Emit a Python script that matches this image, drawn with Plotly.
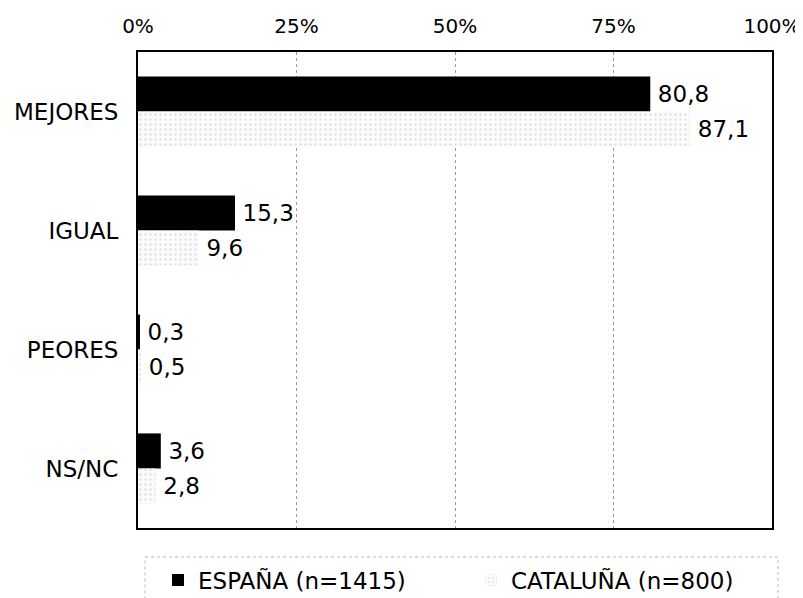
import plotly.graph_objects as go

categories = ["MEJORES", "IGUAL", "PEORES", "NS/NC"]
espana = [80.8, 15.3, 0.3, 3.6]
cataluna = [87.1, 9.6, 0.5, 2.8]
series_names = ["ESPAÑA (n=1415)", "CATALUÑA (n=800)"]
tick_vals = [0, 25, 50, 75, 100]
tick_text = ["0%", "25%", "50%", "75%", "100%"]

def fmt(v):
    return "\u2009" + f"{v:.1f}".replace(".", ",")

FONT = "DejaVu Sans"
FS = 23

fig = go.Figure()
fig.add_trace(go.Bar(
    y=categories, x=espana, orientation="h", name=series_names[0],
    marker=dict(color="black", line=dict(width=0)),
    text=[fmt(v) for v in espana], textposition="outside",
    textfont=dict(family=FONT, size=FS, color="black"),
    constraintext="none", cliponaxis=False,
))
fig.add_trace(go.Bar(
    y=categories, x=cataluna, orientation="h", name=series_names[1],
    marker=dict(color="#f7f7f7", line=dict(width=0),
                pattern=dict(shape=".", fgcolor="#c8c8c8", bgcolor="#fbfbfb", size=5, solidity=0.2)),
    text=[fmt(v) for v in cataluna], textposition="outside",
    textfont=dict(family=FONT, size=FS, color="black"),
    constraintext="none", cliponaxis=False,
))

W, H = 795, 590
L, R, T, B = 130, 31, 44, 70
PW = W - L - R
PH = H - T - B

fig.update_layout(
    width=W, height=H,
    margin=dict(l=L, r=R, t=T, b=B, autoexpand=False),
    paper_bgcolor="white", plot_bgcolor="white",
    font=dict(family=FONT, size=FS, color="black"),
    barmode="group", bargap=0.41, bargroupgap=0,
    showlegend=True,
    legend=dict(orientation="h", xref="container", yref="container",
                x=150 / W, xanchor="left", y=18 / H, yanchor="middle",
                entrywidth=268, entrywidthmode="pixels", itemwidth=30,
                font=dict(family=FONT, size=FS, color="black"),
                bgcolor="rgba(0,0,0,0)", traceorder="normal"),
    shapes=[dict(type="rect", xref="paper", yref="paper",
                 x0=(137 - L) / PW, x1=(770 - L) / PW,
                 y0=-(549 - (T + PH)) / PH, y1=-0.2,
                 line=dict(color="#bbbbbb", width=1, dash="dot"))],
)
fig.update_xaxes(
    range=[0, 100], side="top", tickvals=tick_vals, ticktext=tick_text,
    tickfont=dict(family=FONT, size=20, color="black"),
    showgrid=True, gridcolor="#999999", griddash="dot", gridwidth=1,
    showline=True, linecolor="black", linewidth=2, mirror=True,
    ticks="", ticklabelstandoff=9, zeroline=False, ticklabeloverflow="allow",
    automargin=False,
)
fig.update_yaxes(
    categoryorder="array", categoryarray=categories, autorange="reversed",
    showline=True, linecolor="black", linewidth=2, mirror=True,
    ticks="", ticklabelstandoff=13, showgrid=False, automargin=False,
)
fig.write_html("out.html")
